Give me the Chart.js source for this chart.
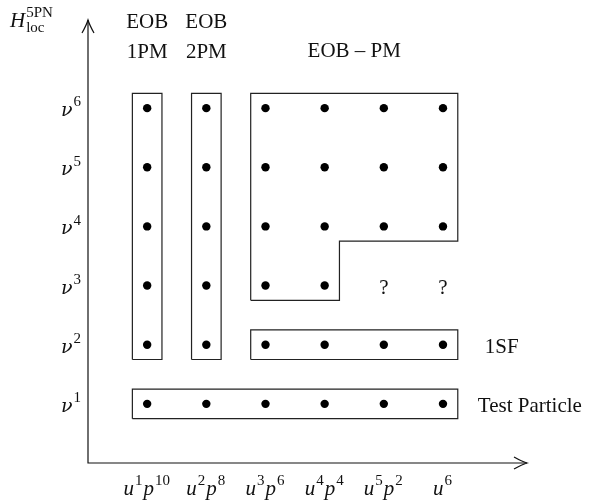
<!DOCTYPE html>
<html>
<head>
<meta charset="utf-8">
<script src="https://cdn.jsdelivr.net/npm/chart.js@4.4.0/dist/chart.umd.min.js"></script>
<style>
  html, body { margin: 0; padding: 0; background: #fff; }
  #wrap { width: 589px; height: 504px; }
</style>
</head>
<body>
<div id="wrap"><canvas id="chart" width="589" height="504"></canvas></div>
<script>
// tick labels: columns are u^n p^m terms, rows are powers of nu
const xTickLabels = ['u^{1}p^{10}', 'u^{2}p^{8}', 'u^{3}p^{6}', 'u^{4}p^{4}', 'u^{5}p^{2}', 'u^{6}'];
const yTickLabels = ['ν^{1}', 'ν^{2}', 'ν^{3}', 'ν^{4}', 'ν^{5}', 'ν^{6}'];
const yAxisTitle = 'H_{loc}^{5PN}';

// cells as [column, power of nu]
const testParticle = [[1, 1], [2, 1], [3, 1], [4, 1], [5, 1], [6, 1]];
const selfForce = [[3, 2], [4, 2], [5, 2], [6, 2]];
const eob1PM = [[1, 2], [1, 3], [1, 4], [1, 5], [1, 6]];
const eob2PM = [[2, 2], [2, 3], [2, 4], [2, 5], [2, 6]];
const eobPM = [[3, 3], [4, 3], [3, 4], [4, 4], [5, 4], [6, 4],
               [3, 5], [4, 5], [5, 5], [6, 5], [3, 6], [4, 6], [5, 6], [6, 6]];
const unknown = [[5, 3], [6, 3]];

const groups = [eob1PM, eob2PM, eobPM, selfForce, testParticle];
const topLabels = [
  { cells: eob1PM, lines: ['EOB', '1PM'] },
  { cells: eob2PM, lines: ['EOB', '2PM'] },
  { cells: eobPM, lines: ['EOB – PM'] }
];
const sideLabels = [
  { cells: selfForce, text: '1SF', gap: 27 },
  { cells: testParticle, text: 'Test Particle', gap: 20 }
];

const FONT = 'Liberation Serif';
const GREEK = 'DejaVu Serif';
const BOX_PAD = 0.25;

// outline around left-aligned rows of cells (rectangles and the L shape)
function outline(cells, pad) {
  const right = {};
  cells.forEach(([c, r]) => { right[r] = Math.max(right[r] ?? -Infinity, c); });
  const left = Math.min(...cells.map(c => c[0])) - pad;
  const ks = Object.keys(right).map(Number).sort((a, b) => a - b);
  const pts = [{ x: left, y: ks[0] - pad }];
  ks.forEach((k, i) => {
    const r = right[k] + pad;
    pts.push({ x: r, y: k - pad });
    pts.push({ x: r, y: i === ks.length - 1 ? k + pad : ks[i + 1] - pad });
  });
  pts.push({ x: left, y: ks[ks.length - 1] + pad });
  pts.push({ x: left, y: ks[0] - pad });
  return pts;
}

const toPoints = cells => cells.map(([x, y]) => ({ x, y }));

const datasets = [];
groups.forEach(g => {
  datasets.push({
    data: outline(g, BOX_PAD),
    showLine: true,
    borderColor: '#222',
    borderWidth: 1.2,
    pointRadius: 0,
    tension: 0,
    fill: false
  });
  datasets.push({
    data: toPoints(g),
    pointRadius: 4.2,
    pointBackgroundColor: '#000',
    pointBorderWidth: 0,
    showLine: false
  });
});

// tiny TeX-ish text: base^{sup}_{sub}
function parseMath(str) {
  const re = /\^\{([^}]*)\}|_\{([^}]*)\}|([^\^_]+)/g;
  const parts = [];
  let m;
  while ((m = re.exec(str))) {
    if (m[1] !== undefined) parts.push({ t: m[1], kind: 'sup' });
    else if (m[2] !== undefined) parts.push({ t: m[2], kind: 'sub' });
    else parts.push({ t: m[3], kind: 'base' });
  }
  return parts;
}

function baseFont(t, size) {
  if (/^[α-ω]+$/.test(t)) return 'italic ' + (size - 2) + 'px "' + GREEK + '"';
  if (/^[A-Za-z]+$/.test(t)) return 'italic ' + size + 'px "' + FONT + '"';
  return size + 'px "' + FONT + '"';
}

function mathLayout(ctx, str, size) {
  const small = Math.round(size * 0.7);
  const parts = parseMath(str);
  const out = [];
  let x = 0, i = 0;
  while (i < parts.length) {
    const p = parts[i];
    if (p.kind === 'base') {
      const font = baseFont(p.t, size);
      ctx.font = font;
      const w = ctx.measureText(p.t).width;
      out.push({ t: p.t, font, x, dy: 0 });
      x += w + (font.startsWith('italic') ? 1 : 0);
      i++;
    } else {
      // sup and sub may share the same x
      let adv = 0;
      while (i < parts.length && parts[i].kind !== 'base') {
        const q = parts[i];
        const font = small + 'px "' + FONT + '"';
        ctx.font = font;
        const w = ctx.measureText(q.t).width;
        out.push({ t: q.t, font, x, dy: q.kind === 'sup' ? -size * 0.46 : size * 0.22 });
        adv = Math.max(adv, w);
        i++;
      }
      x += adv + 1;
    }
  }
  return { items: out, width: x };
}

function drawMath(ctx, str, x, baseline, align, size) {
  const lay = mathLayout(ctx, str, size);
  let x0 = x;
  if (align === 'center') x0 = x - lay.width / 2;
  else if (align === 'right') x0 = x - lay.width;
  ctx.textAlign = 'left';
  ctx.textBaseline = 'alphabetic';
  lay.items.forEach(it => {
    ctx.font = it.font;
    ctx.fillText(it.t, x0 + it.x, baseline + it.dy);
  });
}

function arrowHead(ctx, tx, ty, dir) {
  // open LaTeX style arrow, dir: 'up' or 'right'
  const L = 13, W = 6;
  ctx.beginPath();
  if (dir === 'up') {
    ctx.moveTo(tx - W, ty + L);
    ctx.quadraticCurveTo(tx - 1.5, ty + 5, tx, ty);
    ctx.quadraticCurveTo(tx + 1.5, ty + 5, tx + W, ty + L);
  } else {
    ctx.moveTo(tx - L, ty - W);
    ctx.quadraticCurveTo(tx - 5, ty - 1.5, tx, ty);
    ctx.quadraticCurveTo(tx - 5, ty + 1.5, tx - L, ty + W);
  }
  ctx.stroke();
}

const decorations = {
  id: 'decorations',
  afterDraw(chart) {
    const { ctx, chartArea, scales } = chart;
    const xs = scales.x, ys = scales.y;
    const ox = xs.getPixelForValue(0), oy = ys.getPixelForValue(0);
    ctx.save();
    ctx.strokeStyle = '#111';
    ctx.fillStyle = '#111';
    ctx.lineWidth = 1.2;

    // axes with arrows
    ctx.beginPath();
    ctx.moveTo(ox, chartArea.top);
    ctx.lineTo(ox, oy);
    ctx.lineTo(chartArea.right, oy);
    ctx.stroke();
    arrowHead(ctx, ox, chartArea.top, 'up');
    arrowHead(ctx, chartArea.right, oy, 'right');

    // ticks
    yTickLabels.forEach((lab, i) => {
      drawMath(ctx, lab, ox - 6, ys.getPixelForValue(i + 1) + 8, 'right', 21);
    });
    xTickLabels.forEach((lab, i) => {
      drawMath(ctx, lab, xs.getPixelForValue(i + 1), oy + 32, 'center', 21);
    });
    drawMath(ctx, yAxisTitle, 10, 27, 'left', 21);

    // unknown coefficients
    ctx.font = '21px "' + FONT + '"';
    ctx.textAlign = 'center';
    ctx.textBaseline = 'alphabetic';
    unknown.forEach(([c, r]) => {
      ctx.fillText('?', xs.getPixelForValue(c), ys.getPixelForValue(r) + 8);
    });

    // group names above the boxes
    topLabels.forEach(g => {
      const cols = g.cells.map(c => c[0]);
      const cx = xs.getPixelForValue((Math.min(...cols) + Math.max(...cols)) / 2);
      const first = g.lines.length === 1 ? 57 : 28;
      g.lines.forEach((line, j) => {
        ctx.fillText(line, cx, first + j * 30);
      });
    });

    // group names to the right
    ctx.textAlign = 'left';
    sideLabels.forEach(g => {
      const maxCol = Math.max(...g.cells.map(c => c[0]));
      const row = g.cells[0][1];
      ctx.fillText(g.text, xs.getPixelForValue(maxCol + BOX_PAD) + g.gap, ys.getPixelForValue(row) + 8);
    });
    ctx.restore();
  }
};

new Chart(document.getElementById('chart'), {
  type: 'scatter',
  data: { datasets },
  options: {
    responsive: false,
    devicePixelRatio: 1,
    animation: false,
    layout: { padding: { left: 88, right: 62, top: 20, bottom: 41 } },
    plugins: { legend: { display: false }, tooltip: { enabled: false } },
    scales: {
      x: { type: 'linear', min: 0, max: 7.42, display: false },
      y: { type: 'linear', min: 0, max: 7.49, display: false }
    }
  },
  plugins: [decorations]
});
</script>
</body>
</html>
